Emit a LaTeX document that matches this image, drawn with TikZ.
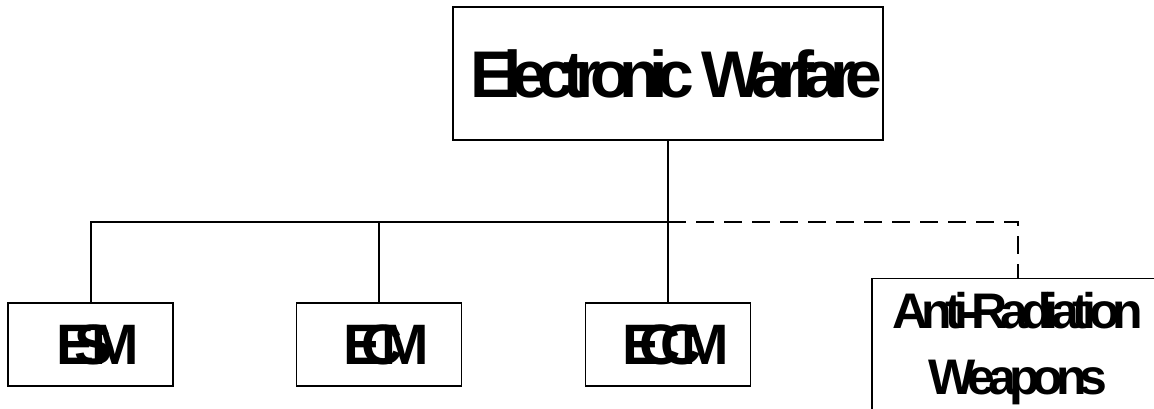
\documentclass[tikz,border=0pt]{standalone}
\usepackage{fontspec}
\setmainfont{Liberation Sans}
\newfontfamily\topfont[LetterSpace=-16]{Liberation Sans Bold}
\newfontfamily\subfont[LetterSpace=-36]{Liberation Sans Bold}
\newfontfamily\armfont[LetterSpace=-14]{Liberation Sans Bold}

\begin{document}
\begin{tikzpicture}[x=1pt,y=-1pt,
    ewbox/.style={draw,line width=1.2pt,inner sep=0pt},
    subbox/.style={ewbox,minimum width=165pt,minimum height=83pt,
        font=\subfont\fontsize{57}{60}\selectfont,execute at begin node=\kern15pt},
    link/.style={line width=2pt}]
            \useasboundingbox (0,0) rectangle (1154,408);

            \node[ewbox,minimum width=430pt,minimum height=133pt,execute at begin node=\kern16pt,
                font=\topfont\fontsize{66}{70}\selectfont] (ew) at (668,73.5) {Electronic Warfare};

            \node[subbox] (esm) at (90.5,344.5) {ESM};
            \node[subbox] (ecm) at (379,344.5) {ECM};
            \node[subbox] (eccm) at (668,344.5) {ECCM};
            \node[ewbox,anchor=north,minimum width=292pt,inner ysep=14pt,align=center,
                font=\armfont\fontsize{50}{66}\selectfont] (arw) at (1018,278) {Anti-Radiation\\Weapons};

            \coordinate (bus) at (668,222);

            \draw[link] (ew.south) -- (bus);
            \draw[link] (esm.north) |- (bus);
            \draw[link] (ecm.north) -- (ecm.north |- bus);
            \draw[link] (bus) -- (eccm.north);
            \draw[link,dash pattern=on 18pt off 10pt] (bus) -| (arw.north);
        \end{tikzpicture}
\end{document}
